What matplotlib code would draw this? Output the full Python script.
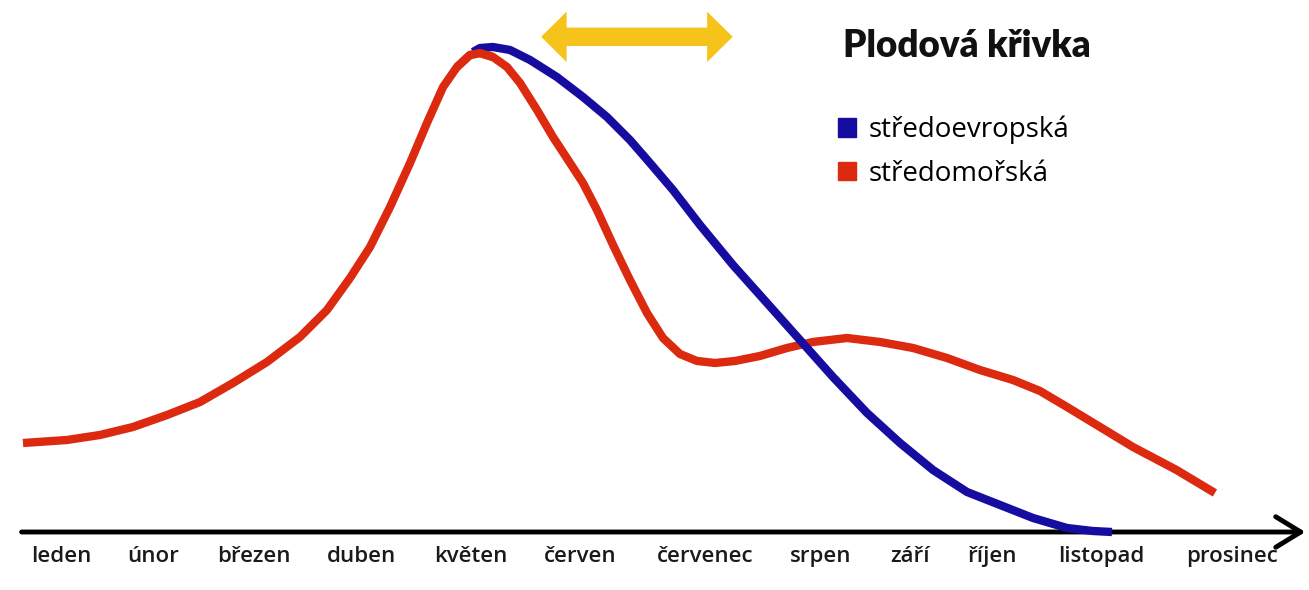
import matplotlib
matplotlib.use("Agg")
import numpy as np
import matplotlib.pyplot as plt
from matplotlib.patches import Patch, Polygon

# months on the x axis (x unit = months, leden = 0)
months = ["leden", "únor", "březen", "duben", "květen", "červen",
          "červenec", "srpen", "září", "říjen", "listopad", "prosinec"]
month_x = [0.0, 0.87, 1.81, 2.82, 3.85, 4.88, 6.05, 7.14, 7.98, 8.75, 9.77, 11.0]

# středomořská (red)
red_x = [-0.357, 0.056, 0.366, 0.676, 0.996, 1.306, 1.616, 1.935, 2.245,
         2.499, 2.715, 2.903, 3.091, 3.279, 3.438, 3.589, 3.720, 3.842,
         3.936, 4.058, 4.190, 4.312, 4.472, 4.622, 4.782, 4.904, 5.035,
         5.186, 5.345, 5.505, 5.655, 5.815, 5.975, 6.144, 6.332, 6.566,
         6.820, 7.064, 7.384, 7.694, 8.004, 8.323, 8.633, 8.943, 9.197,
         9.451, 9.761, 10.07, 10.48, 10.84]
red_y = [18.35, 18.97, 20.0, 21.65, 24.12, 26.80, 30.72, 35.05, 40.21,
         45.77, 52.37, 58.76, 67.01, 76.08, 84.33, 91.75, 95.88, 98.35,
         98.76, 97.94, 95.88, 92.58, 87.01, 81.44, 76.08, 71.96, 66.39,
         59.18, 51.96, 45.15, 40.0, 36.70, 35.26, 34.85, 35.26, 36.29,
         37.94, 39.18, 40.0, 39.18, 37.94, 35.88, 33.40, 31.34, 29.07,
         25.77, 21.65, 17.53, 12.78, 8.04]

# středoevropská (blue)
blue_x = [3.870, 3.936, 4.058, 4.218, 4.406, 4.659, 4.904, 5.129, 5.345,
          5.533, 5.749, 6.003, 6.313, 6.632, 6.942, 7.252, 7.572, 7.882,
          8.192, 8.511, 8.821, 9.131, 9.451, 9.695, 9.873]
blue_y = [98.97, 99.79, 100.0, 99.38, 97.32, 93.81, 89.69, 85.57, 80.82,
          76.08, 70.52, 63.30, 55.05, 47.22, 39.59, 31.96, 24.54, 18.35,
          12.78, 8.25, 5.57, 2.89, 0.82, 0.2, 0.0]

RED = "#dc2a10"
BLUE = "#160ca0"
YELLOW = "#f5c319"

fig = plt.figure(figsize=(13.09, 5.9), dpi=100)
ax = fig.add_axes([0, 0, 1, 1])
ax.set_xlim(-0.573, 11.724)
ax.set_ylim(-11.96, 109.69)
ax.axis("off")

line_kw = dict(lw=6, solid_capstyle="butt", solid_joinstyle="round")
ax.plot(red_x, red_y, color=RED, zorder=3, **line_kw)
ax.plot(blue_x, blue_y, color=BLUE, zorder=4, **line_kw)
# red lies over the blue one at the peak
rx, ry = np.array(red_x), np.array(red_y)
peak = (rx > 3.6) & (rx < 4.1)
ax.plot(rx[peak], ry[peak], color=RED, zorder=5, **line_kw)

# x axis arrow
ax.annotate("", xy=(11.69, 0), xytext=(-0.37, 0),
            arrowprops=dict(arrowstyle="->,head_length=0.9,head_width=0.55",
                            lw=3.5, color="black", mutation_scale=20,
                            shrinkA=0, shrinkB=0), zorder=2)

for mx, name in zip(month_x, months):
    ax.text(mx, -5.0, name, ha="center", va="center", fontsize=16,
            fontweight="semibold", family="Open Sans", color="#1a1a1a")

# yellow double arrow (harvest window)
x0, x1, yc = 4.51, 6.31, 102.1
sh, hh, hl = 1.9, 5.2, 0.24
arrow = Polygon([(x0, yc), (x0 + hl, yc + hh), (x0 + hl, yc + sh),
                 (x1 - hl, yc + sh), (x1 - hl, yc + hh), (x1, yc),
                 (x1 - hl, yc - hh), (x1 - hl, yc - sh), (x0 + hl, yc - sh),
                 (x0 + hl, yc - hh)], closed=True, color=YELLOW, lw=0)
ax.add_patch(arrow)

fig.text(843 / 1309, 1 - 46 / 590, "Plodová křivka", ha="left", va="center",
         fontsize=26.5, fontweight="heavy", family="Lato", color="#111111")

handles = [Patch(color=BLUE, label="středoevropská"),
           Patch(color=RED, label="středomořská")]
fig.legend(handles=handles, loc="upper left",
           bbox_to_anchor=(838 / 1309, 1 - 116 / 590), frameon=False,
           prop=dict(family="Open Sans", size=20), handlelength=0.65,
           handleheight=0.65, handletextpad=0.45, labelspacing=0.55,
           borderpad=0, borderaxespad=0)

fig.savefig("out.png", dpi=100, facecolor="white")
